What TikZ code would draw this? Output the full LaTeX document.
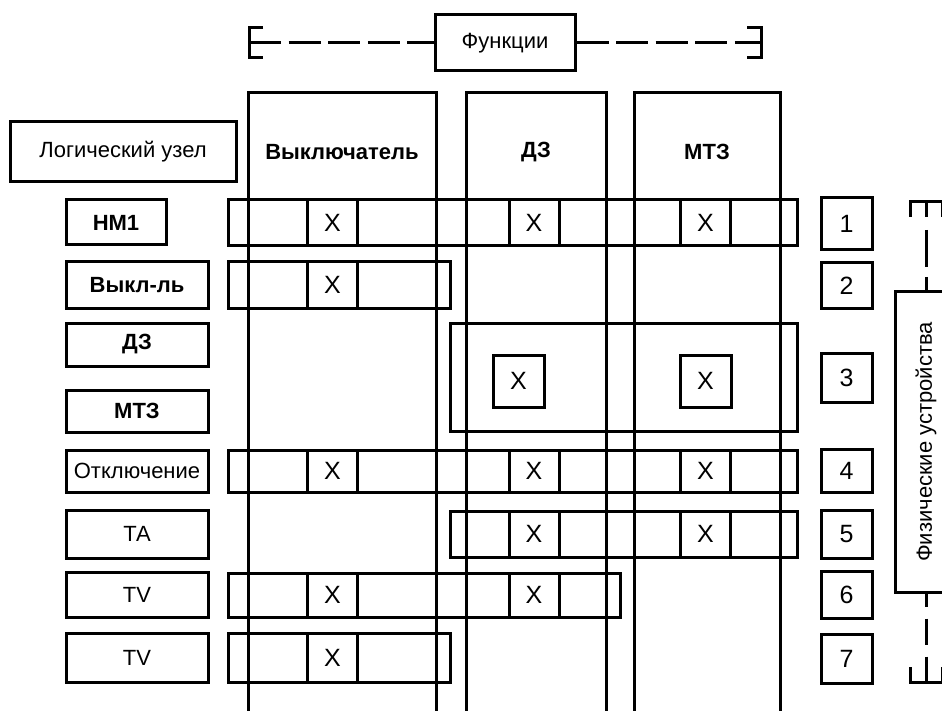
\documentclass[tikz,border=0pt]{standalone}
\usepackage{fontspec}
\setmainfont{Liberation Sans}
\usepackage{tikz}
\usetikzlibrary{positioning}

\begin{document}
\begin{tikzpicture}[
    x=0.5pt, y=-0.5pt,
    box/.style={rectangle, draw, line width=1.5pt, inner sep=0pt, text centered, font=\fontsize{11}{13}\selectfont},
    lbl/.style={box, minimum width=71pt},
    bold/.style={font=\fontsize{11}{13}\selectfont\bfseries},
    xcell/.style={box, minimum width=25pt, font=\fontsize{12.5}{14}\selectfont},
    numbox/.style={box, minimum width=25.5pt, font=\fontsize{12.5}{14}\selectfont},
    frame/.style={line width=1.5pt},
    dline/.style={line width=1.5pt, dash pattern=on 16pt off 3.8pt}
]
    \clip (0,0) rectangle (942,711);

    % functions header
    \node[box, minimum width=70pt, minimum height=28pt] (fun) at (505,43) {Функции};
    \coordinate (lb) at (249,43);
    \coordinate (rb) at (761,43);
    \draw[frame] (263,28) -| (249,58) -- (263,58);
    \draw[frame] (747,28) -| (761,58) -- (747,58);
    \draw[dline] (lb) -- (fun.west);
    \draw[dline] (fun.east) -- (rb);

    % columns
    \draw[frame] (248,720) |- (436,93) -- (436,720);
    \draw[frame] (466,720) |- (606,93) -- (606,720);
    \draw[frame] (634,720) |- (780,93) -- (780,720);
    \node[bold] (hbrk) at (342,152) {Выключатель};
    \node[bold] (hdz) at (536,152) {ДЗ};
    \node[bold] (hmtz) at (707,152) {МТЗ};

    % logical nodes
    \node[box, minimum width=113pt, minimum height=30pt] (lnode) at (123,152) {Логический узел};
    \node[box, bold, minimum width=50pt, minimum height=22.5pt] (lhm) at (116,222.5) {НМ1};
    \node[lbl, bold, minimum height=23pt] (lvyk) at (137,285) {Выкл-ль};
    \node[lbl, bold, minimum height=21.5pt] (ldz) at (137,344.5) {ДЗ};
    \node[lbl, bold, minimum height=21pt] (lmtz) at (137,411) {МТЗ};
    \node[lbl, minimum height=21pt] (lotk) at (137,471) {Отключение};
    \node[lbl, minimum height=24pt] (lta) at (137,534) {ТА};
    \node[lbl, minimum height=22.5pt] (ltva) at (137,595) {TV};
    \node[lbl, minimum height=24.5pt] (ltvb) at (137,657.5) {TV};

    % rows
    \draw[frame] (228,200) rectangle (797,246);
    \draw[frame] (228,262) rectangle (450,308);
    \draw[frame] (450,323) rectangle (797,431);
    \draw[frame] (228,450) rectangle (797,492);
    \draw[frame] (450,511) rectangle (797,557);
    \draw[frame] (228,573) rectangle (620,617);
    \draw[frame] (228,633) rectangle (450,682);

    % marks
    \node[xcell, minimum height=23pt] (xa1) at (332.5,223) {X};
    \node[xcell, minimum height=23pt] (xa2) at (534,223) {X};
    \node[xcell, minimum height=23pt] (xa3) at (705.5,223) {X};
    \node[xcell, minimum height=23pt] (xb1) at (332.5,285) {X};
    \node[xcell, minimum width=25.5pt, minimum height=26pt] (xc2) at (518.5,381) {X};
    \node[xcell, minimum width=25.5pt, minimum height=26pt] (xc3) at (705.5,381) {X};
    \node[xcell, minimum height=21pt] (xd1) at (332.5,471) {X};
    \node[xcell, minimum height=21pt] (xd2) at (534,471) {X};
    \node[xcell, minimum height=21pt] (xd3) at (705.5,471) {X};
    \node[xcell, minimum height=23pt] (xe2) at (534,534) {X};
    \node[xcell, minimum height=23pt] (xe3) at (705.5,534) {X};
    \node[xcell, minimum height=22pt] (xf1) at (332.5,595) {X};
    \node[xcell, minimum height=22pt] (xf2) at (534,595) {X};
    \node[xcell, minimum height=24.5pt] (xg1) at (332.5,657.5) {X};

    % devices
    \node[numbox, minimum height=26pt] (n1) at (846.5,224) {1};
    \node[numbox, minimum height=22.5pt] (n2) at (846.5,285.5) {2};
    \node[numbox, minimum height=24.5pt] (n3) at (846.5,377.5) {3};
    \node[numbox, minimum height=21.5pt] (n4) at (846.5,470.5) {4};
    \node[numbox, minimum height=24pt] (n5) at (846.5,534) {5};
    \node[numbox, minimum height=23.5pt] (n6) at (846.5,594.5) {6};
    \node[numbox, minimum height=24.5pt] (n7) at (846.5,658.5) {7};

    \node[box, rotate=90, minimum width=150pt, minimum height=31pt] (phys) at (926,442) {Физические устройства};
    \coordinate (tb) at (926,202);
    \coordinate (bb) at (926,682);
    \draw[frame] (910,217) |- (942,202) -- (942,217);
    \draw[frame] (910,667) |- (942,682) -- (942,667);
    \draw[line width=1.5pt, dash pattern=on 7.5pt off 6.5pt on 18.5pt off 5pt on 7.5pt] (tb) -- (phys.east);
    \draw[line width=1.5pt, dash pattern=on 6.5pt off 6pt on 13pt off 6pt on 13.5pt] (phys.west) -- (bb);
\end{tikzpicture}
\end{document}
